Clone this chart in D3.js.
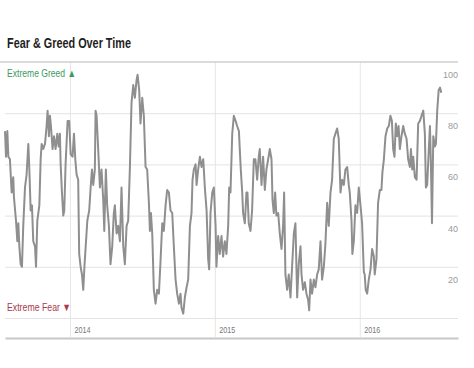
<!doctype html>
<html lang="en">
  <head>
    <meta charset="UTF-8" />
    <title>Fear &amp; Greed Over Time</title>
    <script src="https://d3js.org/d3.v7.min.js"></script>
    <style>
      body {
        margin: 0;
        background: #fff;
      }
      svg {
        display: block;
        font-family: "Liberation Sans", Arial, sans-serif;
      }
      .grid line {
        stroke: #e3e3e3;
      }
      .grid path {
        display: none;
      }
    </style>
  </head>
  <body>
    <svg width="474" height="368"></svg>

    <script>
      // decimal year of each reading
      const years = [
        2013.552, 2013.559, 2013.568, 2013.575, 2013.586, 2013.598, 2013.609, 2013.614,
        2013.628, 2013.637, 2013.644, 2013.651, 2013.66, 2013.669, 2013.678, 2013.69,
        2013.701, 2013.713, 2013.72, 2013.729, 2013.738, 2013.747, 2013.759, 2013.766,
        2013.775, 2013.789, 2013.798, 2013.805, 2013.816, 2013.828, 2013.839, 2013.846,
        2013.855, 2013.862, 2013.869, 2013.88, 2013.89, 2013.901, 2013.913, 2013.922,
        2013.931, 2013.936, 2013.945, 2013.954, 2013.961, 2013.97, 2013.984, 2013.995,
        2014.005, 2014.018, 2014.028, 2014.037, 2014.046, 2014.057, 2014.064, 2014.074,
        2014.083, 2014.092, 2014.101, 2014.11, 2014.12, 2014.133, 2014.143, 2014.152,
        2014.161, 2014.172,
        2014.177, 2014.184, 2014.195, 2014.207, 2014.218, 2014.23, 2014.237, 2014.248,
        2014.257, 2014.269, 2014.28, 2014.292, 2014.303, 2014.31, 2014.322, 2014.333,
        2014.345, 2014.356, 2014.368, 2014.379, 2014.391, 2014.402, 2014.414, 2014.425,
        2014.437, 2014.448, 2014.46, 2014.467, 2014.478, 2014.487, 2014.499, 2014.51,
        2014.522, 2014.533, 2014.545, 2014.552, 2014.559, 2014.568, 2014.579, 2014.591,
        2014.602, 2014.614, 2014.625, 2014.637, 2014.648, 2014.66, 2014.671, 2014.683,
        2014.694, 2014.706, 2014.717, 2014.729, 2014.74, 2014.752, 2014.763,
        2014.77, 2014.782, 2014.793, 2014.805, 2014.816, 2014.828, 2014.839, 2014.846,
        2014.855, 2014.867, 2014.874, 2014.885, 2014.897, 2014.908, 2014.92, 2014.931,
        2014.943, 2014.954, 2014.961, 2014.97, 2014.982, 2014.993, 2015.005, 2015.011,
        2015.023, 2015.034, 2015.046, 2015.057, 2015.069, 2015.08, 2015.092, 2015.099,
        2015.108, 2015.12, 2015.131, 2015.143, 2015.154, 2015.166, 2015.172, 2015.179,
        2015.189, 2015.195, 2015.207, 2015.218, 2015.225, 2015.234, 2015.246, 2015.257,
        2015.269, 2015.28, 2015.292, 2015.303, 2015.31, 2015.322, 2015.333, 2015.345,
        2015.356, 2015.368, 2015.379,
        2015.391, 2015.398, 2015.407, 2015.416, 2015.425, 2015.437, 2015.448, 2015.46,
        2015.471, 2015.478, 2015.487, 2015.499, 2015.51, 2015.522, 2015.533, 2015.545,
        2015.556, 2015.568, 2015.579, 2015.591, 2015.598, 2015.609, 2015.621, 2015.632,
        2015.644, 2015.651, 2015.66, 2015.671, 2015.683, 2015.694, 2015.706, 2015.717,
        2015.729, 2015.74, 2015.752, 2015.763, 2015.775, 2015.786, 2015.798, 2015.809,
        2015.821, 2015.832, 2015.844, 2015.855, 2015.867, 2015.878, 2015.89, 2015.901,
        2015.913, 2015.924, 2015.931, 2015.943, 2015.949, 2015.959, 2015.97, 2015.982,
        2015.993, 2016.005, 2016.016, 2016.028,
        2016.034, 2016.041, 2016.051, 2016.062, 2016.074, 2016.085, 2016.097, 2016.103,
        2016.115, 2016.126, 2016.138, 2016.149, 2016.156, 2016.166, 2016.177, 2016.189,
        2016.2, 2016.211, 2016.221, 2016.23, 2016.239, 2016.248, 2016.257, 2016.267,
        2016.276, 2016.287, 2016.299, 2016.31, 2016.322, 2016.333, 2016.345, 2016.352,
        2016.361, 2016.368, 2016.379, 2016.391, 2016.402, 2016.414, 2016.425, 2016.437,
        2016.448, 2016.455, 2016.464, 2016.476, 2016.483, 2016.49, 2016.497, 2016.506,
        2016.517, 2016.524, 2016.533, 2016.543, 2016.552, 2016.561,
      ];

      // fear & greed index (0-100) at each of those dates
      const scores = [
        73, 63, 73, 63, 62, 49, 55, 47,
        38, 30, 37, 28, 21, 20, 36, 51,
        56, 68, 58, 42, 44, 30, 28, 20,
        38, 44, 62, 68, 66, 68, 75, 81,
        71, 79, 75, 66, 71, 66, 72, 67,
        72, 60, 49, 40, 42, 60, 77, 77,
        64, 63, 72, 62, 56, 54, 25, 20,
        17, 11, 21, 29, 38, 42, 51, 58,
        52, 58,
        81, 79, 66, 51, 58, 46, 34, 58,
        44, 36, 21, 28, 41, 44, 33, 36,
        30, 51, 28, 21, 36, 38, 59, 84,
        91, 86, 93, 95, 89, 76, 86, 79,
        59, 58, 45, 34, 41, 33, 11, 5.6,
        11, 9.5, 22, 37, 34, 44, 50, 49,
        42, 41, 28, 15, 9.5, 5.6, 9.5,
        4, 1.7, 8, 12, 15, 36, 41, 54,
        58, 60, 52, 58, 63, 59, 62, 51,
        42, 23, 19, 41, 49, 51, 36, 20,
        32, 25, 32, 24, 30, 25, 36, 51,
        49, 72, 79, 77, 75, 73, 66, 58,
        49, 41, 37, 49, 49, 37, 34, 42,
        62, 62, 54, 63, 66, 52, 63, 50,
        58, 62, 66,
        62, 46, 41, 49, 40, 41, 33, 27,
        36, 49, 17, 11, 17, 8, 20, 33,
        37, 8, 21, 28, 17, 11, 14, 9.5,
        7, 3, 15, 9.5, 15, 12, 17, 19,
        30, 15, 20, 29, 45, 36, 49, 54,
        70, 72, 74, 70, 49, 54, 52, 58,
        59, 52, 49, 38, 25, 30, 44, 41,
        51, 44, 37, 18,
        17, 11, 9.5, 15, 19, 27, 24, 17,
        23, 45, 50, 50, 57, 62, 71, 74,
        75, 79, 77, 66, 63, 76, 71, 75,
        66, 71, 75, 72, 70, 62, 59, 66,
        58, 63, 55, 54, 76, 77, 79, 81,
        72, 51, 52, 67, 75, 59, 37, 71,
        67, 68, 81, 89, 90, 88,
      ];

      const yLabels = [20, 40, 60, 80, 100];
      const gridValues = [0, 20, 40, 60, 80];

      function toDate(t) {
        const y0 = Math.floor(t);
        const a = Date.UTC(y0, 0, 1);
        const b = Date.UTC(y0 + 1, 0, 1);
        return new Date(a + (t - y0) * (b - a));
      }

      const data = years.map((t, i) => ({ date: toDate(t), value: scores[i] }));

      const svg = d3.select("svg");
      const plotLeft = 5,
        plotRight = 458,
        plotTop = 62,
        plotBottom = 338;

      const x = d3
        .scaleUtc()
        .domain([toDate(2013.552), toDate(2016.676)])
        .range([plotLeft, plotRight]);
      const y = d3.scaleLinear().domain([0, 100]).range([318, plotTop]);

      // title (narrow face in the original, so squeeze it)
      svg
        .append("text")
        .attr("x", 7)
        .attr("y", 48)
        .attr("textLength", 124)
        .attr("lengthAdjust", "spacingAndGlyphs")
        .style("font-size", "14px")
        .style("font-weight", "bold")
        .style("fill", "#1e1e1e")
        .text("Fear & Greed Over Time");

      // horizontal grid
      svg
        .append("g")
        .attr("class", "grid")
        .attr("transform", `translate(${plotRight},0)`)
        .call(
          d3
            .axisLeft(y)
            .tickValues(gridValues)
            .tickSize(plotRight - plotLeft)
            .tickFormat(""),
        );

      // vertical year lines + labels
      const xAxis = svg
        .append("g")
        .attr("transform", `translate(0,${plotBottom})`)
        .call(
          d3
            .axisBottom(x)
            .ticks(d3.utcYear.every(1))
            .tickSize(-(plotBottom - plotTop))
            .tickSizeOuter(0)
            .tickFormat(d3.utcFormat("%Y")),
        );
      xAxis.select(".domain").attr("stroke", "#c8c8c8").attr("stroke-width", 2);
      xAxis.selectAll(".tick line").attr("stroke", "#e6e6e6");
      xAxis
        .selectAll(".tick text")
        .attr("x", 4)
        .attr("y", -5)
        .attr("dy", null)
        .attr("textLength", 16)
        .attr("lengthAdjust", "spacingAndGlyphs")
        .style("text-anchor", "start")
        .style("font-family", "'Liberation Sans', Arial, sans-serif")
        .style("font-size", "9px")
        .style("fill", "#777");

      // top rule (100)
      svg
        .append("line")
        .attr("x1", 0)
        .attr("x2", plotRight)
        .attr("y1", y(100))
        .attr("y2", y(100))
        .attr("stroke", "#cfcfcf")
        .attr("stroke-width", 1.5);

      // value labels sit under their grid line
      svg
        .selectAll(".ylab")
        .data(yLabels)
        .join("text")
        .attr("class", "ylab")
        .attr("x", plotRight)
        .attr("y", (d) => y(d) + 16)
        .style("text-anchor", "end")
        .style("font-size", "9px")
        .style("fill", "#9a9a9a")
        .text((d) => d);

      svg
        .append("text")
        .attr("x", 7)
        .attr("y", 77)
        .attr("textLength", 69)
        .attr("lengthAdjust", "spacingAndGlyphs")
        .style("font-size", "11px")
        .style("fill", "#3c9a5f")
        .text("Extreme Greed \u25B2");

      svg
        .append("text")
        .attr("x", 7)
        .attr("y", 311)
        .attr("textLength", 64)
        .attr("lengthAdjust", "spacingAndGlyphs")
        .style("font-size", "11px")
        .style("fill", "#a83a4c")
        .text("Extreme Fear \u25BC");

      const line = d3
        .line()
        .x((d) => x(d.date))
        .y((d) => y(d.value));

      svg
        .append("path")
        .datum(data)
        .attr("fill", "none")
        .attr("stroke", "#8f8f8f")
        .attr("stroke-width", 2)
        .attr("stroke-linejoin", "round")
        .attr("d", line);
    </script>
  </body>
</html>
